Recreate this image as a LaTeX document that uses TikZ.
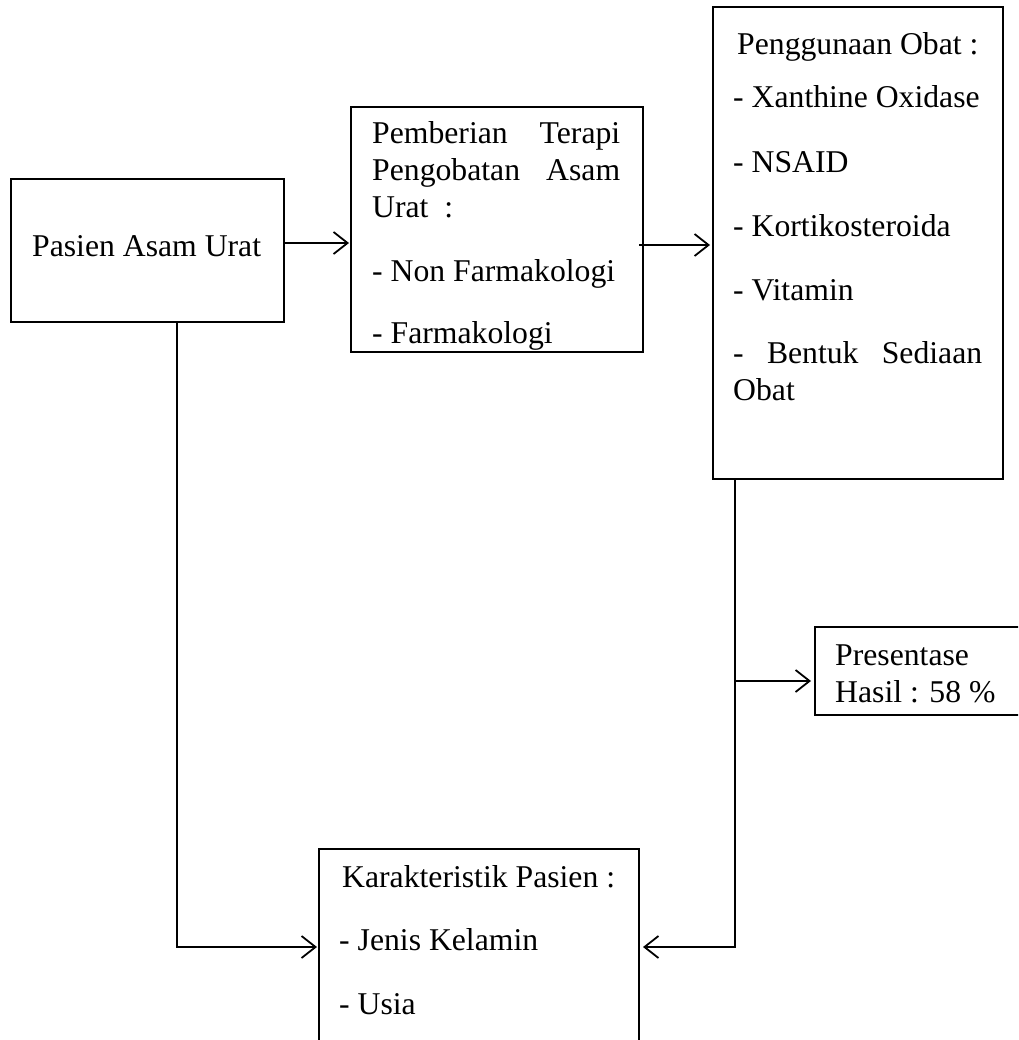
\documentclass[tikz,border=0pt]{standalone}
\usepackage{fontspec}
\setmainfont{Liberation Serif}
\usetikzlibrary{arrows.meta}
\begin{document}
\begin{tikzpicture}[x=1pt,y=-1pt,
  box/.style={draw, line width=1.3pt, inner sep=0pt, outer sep=0pt, anchor=north west},
  txt/.style={anchor=base west, inner sep=0pt, font=\fontsize{31.7}{37}\selectfont},
  arr/.style={line width=1.8pt, -{Straight Barb[length=14pt,width=22pt,line width=1.8pt]}}]
\useasboundingbox (0,0) rectangle (1018,1040);
\clip (0,0) rectangle (1018,1040);
% boxes
\node[box, minimum width=273pt, minimum height=143pt] (pasien) at (11,179) {};
\node[box, minimum width=292pt, minimum height=245pt] (pemb) at (351,107) {};
\node[box, minimum width=290pt, minimum height=472pt] (obat) at (713,7) {};
\node[box, minimum width=260pt, minimum height=88pt] (pres) at (815,627) {};
\node[box, minimum width=320pt, minimum height=230pt] (kar) at (319,849) {};
% texts
\node[txt] (t1) at (32,257) {Pasien Asam Urat};
\node[txt] (t2) at (372,144) {\makebox[248pt][s]{Pemberian Terapi}};
\node[txt] (t3) at (372,181) {\makebox[248pt][s]{Pengobatan Asam}};
\node[txt] (t4) at (372,218) {Urat\ \ :};
\node[txt] (t5) at (372,282) {- Non Farmakologi};
\node[txt] (t6) at (372,343) {- Farmakologi};
\node[txt] (t7) at (737,55) {Penggunaan Obat :};
\node[txt] (t8) at (733,108) {- Xanthine Oxidase};
\node[txt] (t9) at (733,173) {- NSAID};
\node[txt] (t10) at (733,237) {- Kortikosteroida};
\node[txt] (t11) at (733,300) {- Vitamin};
\node[txt] (t12) at (733,363) {\makebox[249pt][s]{- Bentuk Sediaan}};
\node[txt] (t13) at (733,400) {Obat};
\node[txt] (t14) at (835,665) {Presentase};
\node[txt] (t15) at (835,702) {Hasil : 58 \%};
\node[txt] (t16) at (342,887) {Karakteristik Pasien :};
\node[txt] (t17) at (339,950) {- Jenis Kelamin};
\node[txt] (t18) at (339,1014) {- Usia};
% connectors
\coordinate (a1) at (0,243);
\draw[arr] (pasien.east |- a1) -- ([xshift=-2pt]pemb.west |- a1);
\coordinate (a2) at (639,245);
\draw[arr] (a2) -- ([xshift=-3pt]obat.west |- a2);
\coordinate (l1) at (177,0);
\coordinate (l2) at (177,947);
\draw[arr] (pasien.south -| l1) -- (l2) -- ([xshift=-2pt]kar.west |- l2);
\coordinate (r1) at (735,947);
\draw[arr] (obat.south -| r1) -- (r1) -- ([xshift=4pt]kar.east |- r1);
\coordinate (b1) at (735,681);
\draw[arr] (b1) -- ([xshift=-4pt]pres.west |- b1);
\end{tikzpicture}
\end{document}
